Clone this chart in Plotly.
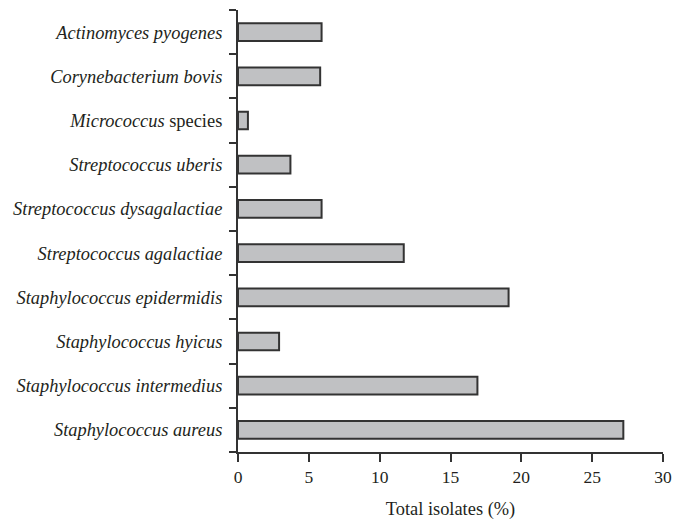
import plotly.graph_objects as go

categories = [
    "Actinomyces pyogenes",
    "Corynebacterium bovis",
    "Micrococcus species",
    "Streptococcus uberis",
    "Streptococcus dysagalactiae",
    "Streptococcus agalactiae",
    "Staphylococcus epidermidis",
    "Staphylococcus hyicus",
    "Staphylococcus intermedius",
    "Staphylococcus aureus",
]
tick_labels = [
    "<i>Actinomyces pyogenes</i>",
    "<i>Corynebacterium bovis</i>",
    "<i>Micrococcus</i> species",
    "<i>Streptococcus uberis</i>",
    "<i>Streptococcus dysagalactiae</i>",
    "<i>Streptococcus agalactiae</i>",
    "<i>Staphylococcus epidermidis</i>",
    "<i>Staphylococcus hyicus</i>",
    "<i>Staphylococcus intermedius</i>",
    "<i>Staphylococcus aureus</i>",
]
values = [5.9, 5.8, 0.7, 3.7, 5.9, 11.7, 19.1, 2.9, 16.9, 27.2]
x_ticks = [0, 5, 10, 15, 20, 25, 30]

ink = "#333333"
fig = go.Figure(
    go.Bar(
        y=categories,
        x=values,
        orientation="h",
        width=0.4,
        marker=dict(color="#c0c1c3", line=dict(color=ink, width=2)),
        hoverinfo="skip",
    )
)
fig.update_layout(
    width=675,
    height=527,
    margin=dict(l=238, r=12, t=10, b=75, autoexpand=False),
    plot_bgcolor="white",
    paper_bgcolor="white",
    font=dict(family="Liberation Serif", color="#231f20", size=18),
    showlegend=False,
)
fig.update_xaxes(
    range=[0, 30],
    tickvals=x_ticks,
    ticks="outside",
    ticklen=8,
    tickwidth=2,
    tickcolor=ink,
    showline=True,
    linecolor=ink,
    linewidth=2,
    showgrid=False,
    zeroline=False,
    automargin=False,
    tickfont=dict(size=17.5),
    title=dict(text="Total isolates (%)", font=dict(size=18.4), standoff=16),
)
fig.update_yaxes(
    categoryorder="array",
    categoryarray=categories,
    tickvals=categories,
    ticktext=tick_labels,
    range=[9.5, -0.5],
    tickson="boundaries",
    ticks="outside",
    ticklen=7,
    tickwidth=2,
    tickcolor=ink,
    showline=True,
    linecolor=ink,
    linewidth=2,
    showgrid=False,
    zeroline=False,
    automargin=False,
    ticklabelstandoff=10,
    tickfont=dict(size=18.4),
)
fig.write_html(
    "out.html",
    config={"displayModeBar": False},
    post_script="document.body.style.margin='0';document.body.style.overflow='hidden';",
)
